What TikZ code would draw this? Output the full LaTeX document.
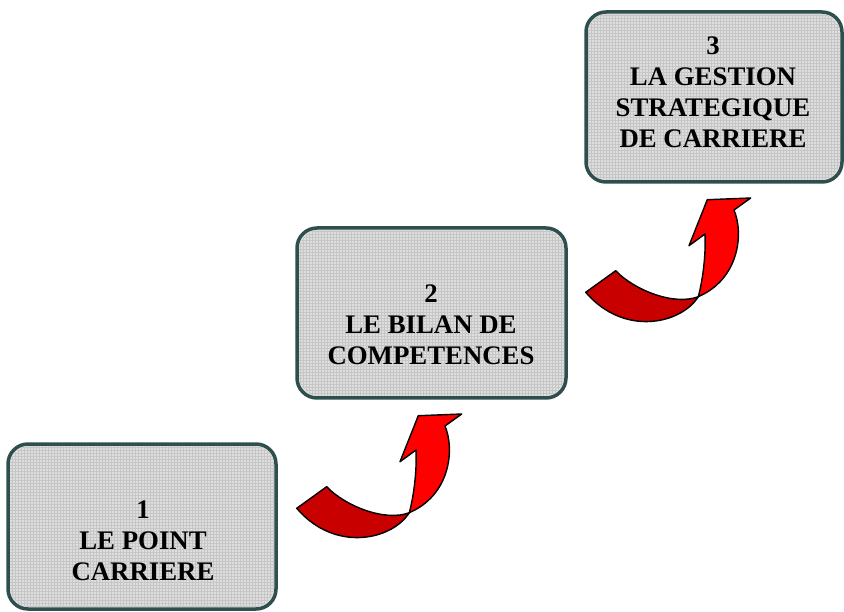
\documentclass[tikz,border=0pt]{standalone}
\usepackage{fontspec}
\setmainfont{Liberation Serif}
\usetikzlibrary{patterns}
\definecolor{boxborder}{RGB}{47,79,79}
\definecolor{boxfill}{RGB}{222,222,222}
\definecolor{shaftred}{RGB}{255,0,0}
\definecolor{tailred}{RGB}{200,0,0}
\tikzset{
  stepbox/.style={draw=boxborder, line width=3.5pt, rounded corners=20pt, fill=boxfill},
  stepgrid/.style={pattern=grid, pattern color=gray!45, rounded corners=20pt},
  steptext/.style={font=\bfseries\fontsize{26.8}{31}\selectfont, align=center, text=black},
  arrowpart/.style={draw=black, line width=1.4pt, line join=round},
}
\newcommand{\curvedarrow}[2]{%
  \begin{scope}[shift={(#1,#2)}]
    \fill[tailred, arrowpart] (326.7,486.7) .. controls (345,506) and (385,522) .. (409.3,512.7)
      .. controls (392,540) and (335,553) .. (296.7,508.3) -- cycle;
    \fill[shaftred, arrowpart] (409.3,512.7) .. controls (414,495) and (417,470) .. (416,450)
      -- (400,461.7) -- (418.3,415.7) -- (461.7,414) -- (445,426)
      .. controls (455,450) and (450,495) .. (409.3,512.7) -- cycle;
  \end{scope}}
\begin{document}
\begin{tikzpicture}[x=1pt,y=-1pt]
  \useasboundingbox (0,0) rectangle (844,612);
  % boxes
  \draw[stepbox] (8,444) rectangle (276,609);
  \fill[stepgrid] (10,446) rectangle (274,607);
  \draw[stepbox] (297,228) rectangle (566,398);
  \fill[stepgrid] (299,230) rectangle (564,396);
  \draw[stepbox] (586,12) rectangle (842,182);
  \fill[stepgrid] (588,14) rectangle (840,180);
  % texts
  \node[steptext] (t1) at (143,541) {1\\LE POINT\\CARRIERE};
  \node[steptext] (t2) at (431,325) {2\\LE BILAN DE\\COMPETENCES};
  \node[steptext] (t3) at (713,92) {3\\LA GESTION\\STRATEGIQUE\\DE CARRIERE};
  % arrows
  \curvedarrow{0}{0}
  \curvedarrow{289}{-216}
\end{tikzpicture}
\end{document}
